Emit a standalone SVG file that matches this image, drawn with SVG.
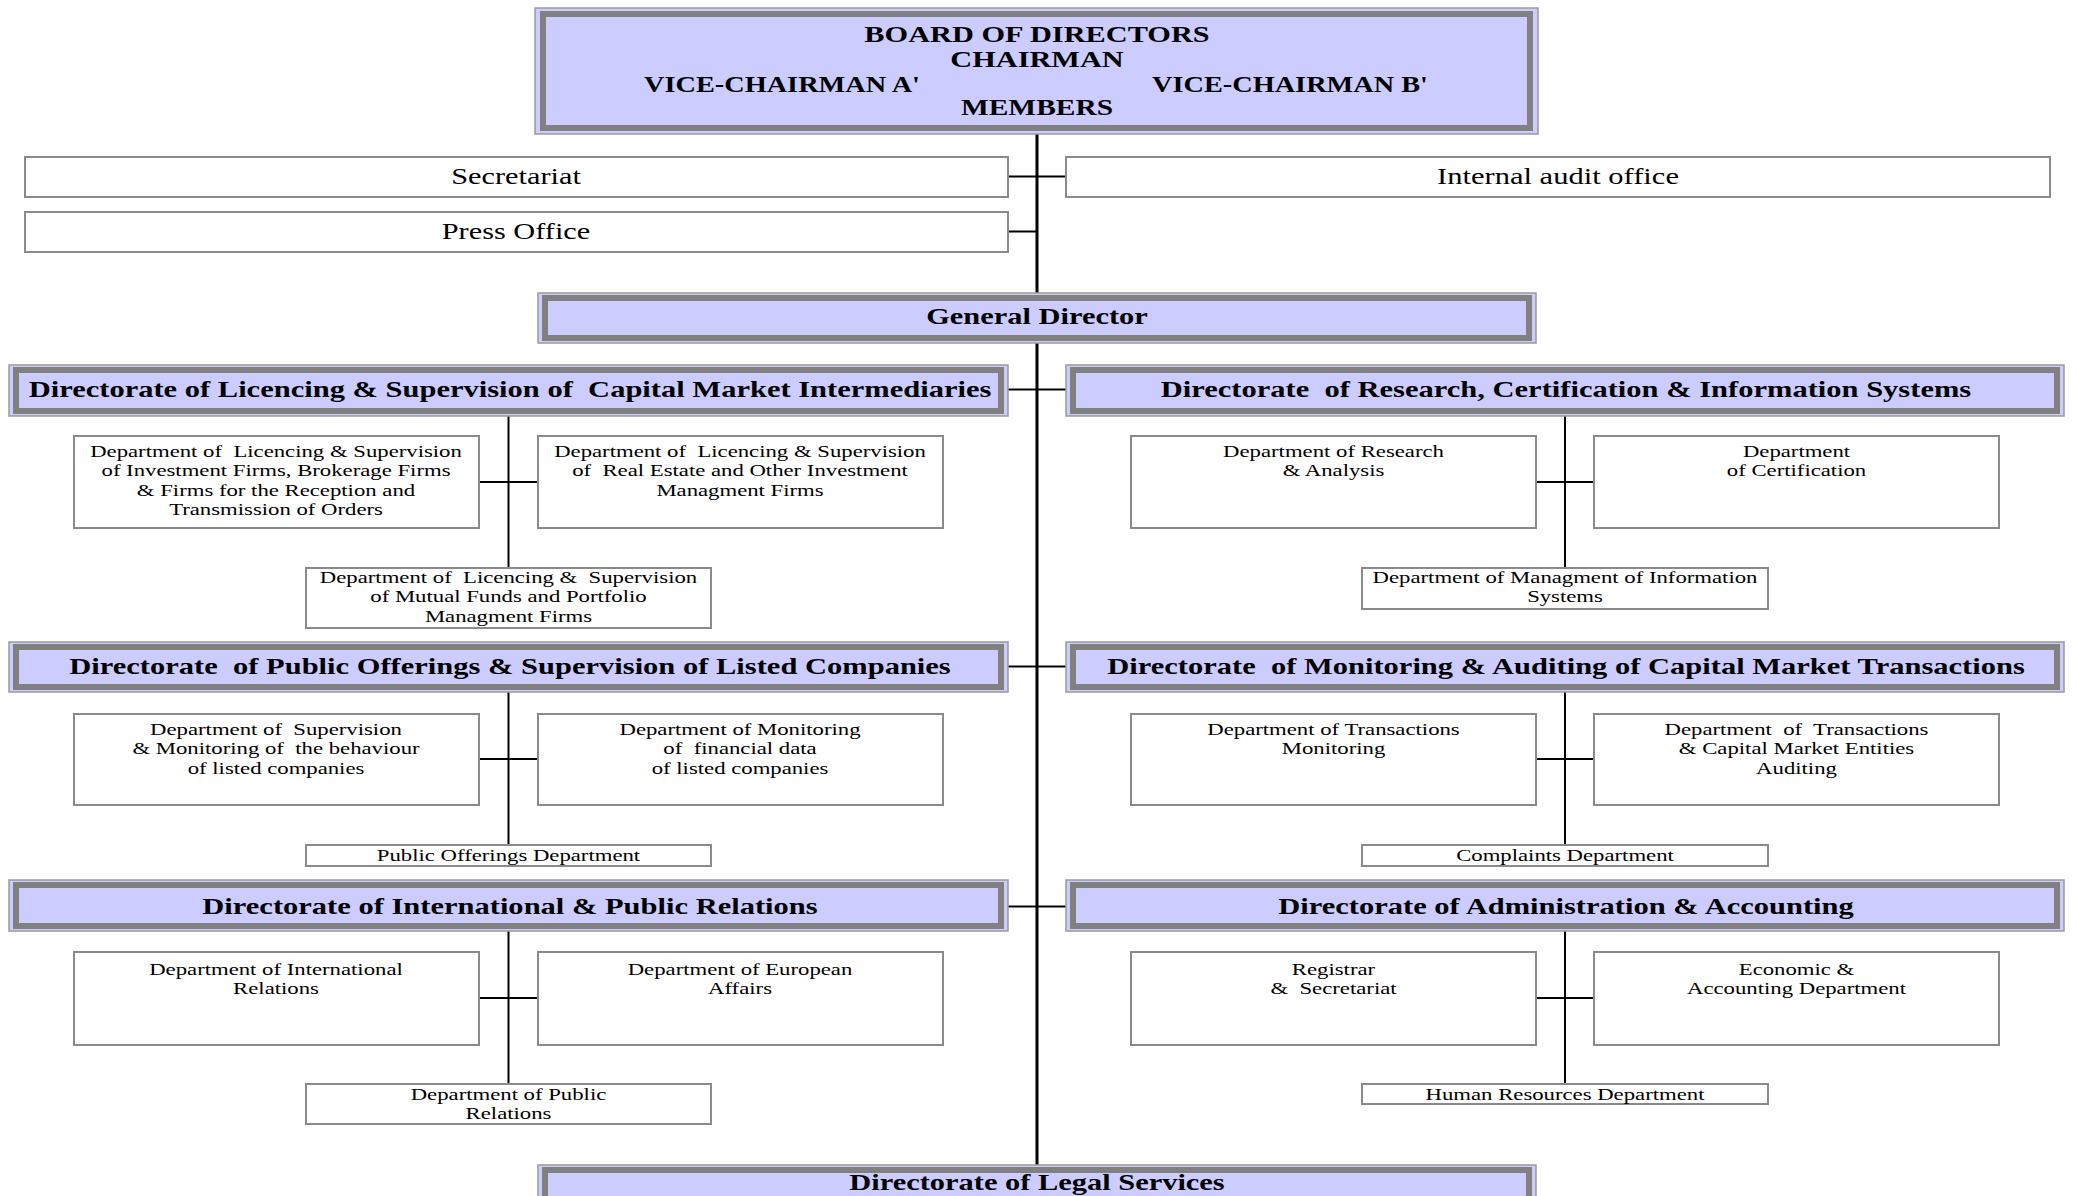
<svg xmlns="http://www.w3.org/2000/svg" width="2076" height="1196" viewBox="0 0 2076 1196">
<style>
.bo{fill:#ccccff;stroke:#9a9a9a;stroke-width:1.5}
.bi{fill:none;stroke:#808080;stroke-width:6}
.box{fill:#ffffff;stroke:#8a8a8a;stroke-width:2}
.h{font-family:"Liberation Serif","Times New Roman",serif;font-weight:bold;font-size:22.3px;fill:#000;text-anchor:middle}
.t{font-family:"Liberation Serif","Times New Roman",serif;font-size:22.3px;fill:#000;text-anchor:middle}
.d{font-family:"Liberation Serif","Times New Roman",serif;font-size:16.6px;fill:#000;text-anchor:middle}
.c{stroke:#000;fill:none}
</style>
<rect width="2076" height="1196" fill="#ffffff"/>
<g id="connectors">
<line class="c" x1="1037" y1="134" x2="1037" y2="1166" stroke-width="3"/>
<line class="c" x1="1008" y1="176.5" x2="1066" y2="176.5" stroke-width="2"/>
<line class="c" x1="1008" y1="231.5" x2="1037" y2="231.5" stroke-width="2"/>
<line class="c" x1="1008" y1="389.5" x2="1066" y2="389.5" stroke-width="2"/>
<line class="c" x1="1008" y1="666.5" x2="1066" y2="666.5" stroke-width="2"/>
<line class="c" x1="1008" y1="906.5" x2="1066" y2="906.5" stroke-width="2"/>
<line class="c" x1="508.5" y1="416" x2="508.5" y2="568" stroke-width="2"/>
<line class="c" x1="479" y1="482" x2="538" y2="482" stroke-width="2"/>
<line class="c" x1="1565" y1="416" x2="1565" y2="568" stroke-width="2"/>
<line class="c" x1="1536" y1="482" x2="1594" y2="482" stroke-width="2"/>
<line class="c" x1="508.5" y1="692" x2="508.5" y2="845" stroke-width="2"/>
<line class="c" x1="479" y1="759" x2="538" y2="759" stroke-width="2"/>
<line class="c" x1="1565" y1="692" x2="1565" y2="845" stroke-width="2"/>
<line class="c" x1="1536" y1="759" x2="1594" y2="759" stroke-width="2"/>
<line class="c" x1="508.5" y1="931" x2="508.5" y2="1084" stroke-width="2"/>
<line class="c" x1="479" y1="998" x2="538" y2="998" stroke-width="2"/>
<line class="c" x1="1565" y1="931" x2="1565" y2="1084" stroke-width="2"/>
<line class="c" x1="1536" y1="998" x2="1594" y2="998" stroke-width="2"/>
</g>
<g id="board">
<rect class="bo" x="535" y="8" width="1003" height="126"/>
<rect class="bi" x="543" y="14" width="987" height="114"/>
<text class="h" transform="translate(1037,42) scale(1.36,1)">BOARD OF DIRECTORS</text>
<text class="h" transform="translate(1037,67) scale(1.36,1)">CHAIRMAN</text>
<text class="h" transform="translate(782,92) scale(1.27,1)">VICE-CHAIRMAN A'</text>
<text class="h" transform="translate(1290,92) scale(1.27,1)">VICE-CHAIRMAN B'</text>
<text class="h" transform="translate(1037,115) scale(1.32,1)">MEMBERS</text>
</g>
<g id="secretariat">
<rect class="box" x="25" y="157" width="983" height="40"/>
<text class="t" transform="translate(516,184) scale(1.36,1)">Secretariat</text>
</g>
<g id="internal-audit">
<rect class="box" x="1066" y="157" width="984" height="40"/>
<text class="t" transform="translate(1558,184) scale(1.37,1)">Internal audit office</text>
</g>
<g id="press-office">
<rect class="box" x="25" y="212" width="983" height="40"/>
<text class="t" transform="translate(516,239) scale(1.36,1)">Press Office</text>
</g>
<g id="general-director">
<rect class="bo" x="538" y="293" width="998" height="50"/>
<rect class="bi" x="545" y="298" width="984" height="40"/>
<text class="h" transform="translate(1037,324) scale(1.365,1)">General Director</text>
</g>
<g id="dir-licencing">
<rect class="bo" x="9" y="365" width="999" height="51"/>
<rect class="bi" x="16" y="370" width="985" height="41"/>
<text class="h" xml:space="preserve" transform="translate(510,397) scale(1.368,1)">Directorate of Licencing &amp; Supervision of  Capital Market Intermediaries</text>
</g>
<g id="dir-research">
<rect class="bo" x="1066" y="365" width="998" height="51"/>
<rect class="bi" x="1073" y="370" width="984" height="41"/>
<text class="h" xml:space="preserve" transform="translate(1566,397) scale(1.368,1)">Directorate  of Research, Certification &amp; Information Systems</text>
</g>
<g id="dept-lic-invest">
<rect class="box" x="74" y="436" width="405" height="92"/>
<text class="d" xml:space="preserve" transform="translate(276,457) scale(1.37,1)"><tspan x="0" y="0">Department of  Licencing &amp; Supervision</tspan><tspan x="0" y="19.3">of Investment Firms, Brokerage Firms</tspan><tspan x="0" y="38.6">&amp; Firms for the Reception and</tspan><tspan x="0" y="57.9">Transmission of Orders</tspan></text>
</g>
<g id="dept-lic-realestate">
<rect class="box" x="538" y="436" width="405" height="92"/>
<text class="d" xml:space="preserve" transform="translate(740,457) scale(1.37,1)"><tspan x="0" y="0">Department of  Licencing &amp; Supervision</tspan><tspan x="0" y="19.3">of  Real Estate and Other Investment</tspan><tspan x="0" y="38.6">Managment Firms</tspan></text>
</g>
<g id="dept-lic-mutual">
<rect class="box" x="306" y="568" width="405" height="60"/>
<text class="d" xml:space="preserve" transform="translate(508.5,583) scale(1.37,1)"><tspan x="0" y="0">Department of  Licencing &amp;  Supervision</tspan><tspan x="0" y="19.3">of Mutual Funds and Portfolio</tspan><tspan x="0" y="38.6">Managment Firms</tspan></text>
</g>
<g id="dept-research">
<rect class="box" x="1131" y="436" width="405" height="92"/>
<text class="d" transform="translate(1333.5,457) scale(1.37,1)"><tspan x="0" y="0">Department of Research</tspan><tspan x="0" y="19.3">&amp; Analysis</tspan></text>
</g>
<g id="dept-certification">
<rect class="box" x="1594" y="436" width="405" height="92"/>
<text class="d" transform="translate(1796.5,457) scale(1.37,1)"><tspan x="0" y="0">Department</tspan><tspan x="0" y="19.3">of Certification</tspan></text>
</g>
<g id="dept-mis">
<rect class="box" x="1362" y="568" width="406" height="41"/>
<text class="d" transform="translate(1565,583) scale(1.37,1)"><tspan x="0" y="0">Department of Managment of Information</tspan><tspan x="0" y="19.3">Systems</tspan></text>
</g>
<g id="dir-public-offerings">
<rect class="bo" x="9" y="642" width="999" height="50"/>
<rect class="bi" x="16" y="647" width="985" height="40"/>
<text class="h" xml:space="preserve" transform="translate(510,674) scale(1.368,1)">Directorate  of Public Offerings &amp; Supervision of Listed Companies</text>
</g>
<g id="dir-monitoring">
<rect class="bo" x="1066" y="642" width="998" height="50"/>
<rect class="bi" x="1073" y="647" width="984" height="40"/>
<text class="h" xml:space="preserve" transform="translate(1566,674) scale(1.368,1)">Directorate  of Monitoring &amp; Auditing of Capital Market Transactions</text>
</g>
<g id="dept-supervision-behaviour">
<rect class="box" x="74" y="714" width="405" height="91"/>
<text class="d" xml:space="preserve" transform="translate(276,735) scale(1.37,1)"><tspan x="0" y="0">Department of  Supervision</tspan><tspan x="0" y="19.3">&amp; Monitoring of  the behaviour</tspan><tspan x="0" y="38.6">of listed companies</tspan></text>
</g>
<g id="dept-financial-data">
<rect class="box" x="538" y="714" width="405" height="91"/>
<text class="d" xml:space="preserve" transform="translate(740,735) scale(1.37,1)"><tspan x="0" y="0">Department of Monitoring</tspan><tspan x="0" y="19.3">of  financial data</tspan><tspan x="0" y="38.6">of listed companies</tspan></text>
</g>
<g id="dept-public-offerings">
<rect class="box" x="306" y="845" width="405" height="21"/>
<text class="d" transform="translate(508.5,861) scale(1.37,1)">Public Offerings Department</text>
</g>
<g id="dept-transactions-monitoring">
<rect class="box" x="1131" y="714" width="405" height="91"/>
<text class="d" transform="translate(1333.5,735) scale(1.37,1)"><tspan x="0" y="0">Department of Transactions</tspan><tspan x="0" y="19.3">Monitoring</tspan></text>
</g>
<g id="dept-transactions-auditing">
<rect class="box" x="1594" y="714" width="405" height="91"/>
<text class="d" xml:space="preserve" transform="translate(1796.5,735) scale(1.37,1)"><tspan x="0" y="0">Department  of  Transactions</tspan><tspan x="0" y="19.3">&amp; Capital Market Entities</tspan><tspan x="0" y="38.6">Auditing</tspan></text>
</g>
<g id="dept-complaints">
<rect class="box" x="1362" y="845" width="406" height="21"/>
<text class="d" transform="translate(1565,861) scale(1.37,1)">Complaints Department</text>
</g>
<g id="dir-international">
<rect class="bo" x="9" y="880" width="999" height="51"/>
<rect class="bi" x="16" y="885" width="985" height="41"/>
<text class="h" transform="translate(510,914) scale(1.368,1)">Directorate of International &amp; Public Relations</text>
</g>
<g id="dir-administration">
<rect class="bo" x="1066" y="880" width="998" height="51"/>
<rect class="bi" x="1073" y="885" width="984" height="41"/>
<text class="h" transform="translate(1566,914) scale(1.368,1)">Directorate of Administration &amp; Accounting</text>
</g>
<g id="dept-international">
<rect class="box" x="74" y="952" width="405" height="93"/>
<text class="d" transform="translate(276,975) scale(1.37,1)"><tspan x="0" y="0">Department of International</tspan><tspan x="0" y="19.3">Relations</tspan></text>
</g>
<g id="dept-european">
<rect class="box" x="538" y="952" width="405" height="93"/>
<text class="d" transform="translate(740,975) scale(1.37,1)"><tspan x="0" y="0">Department of European</tspan><tspan x="0" y="19.3">Affairs</tspan></text>
</g>
<g id="dept-public-relations">
<rect class="box" x="306" y="1084" width="405" height="40"/>
<text class="d" transform="translate(508.5,1100) scale(1.37,1)"><tspan x="0" y="0">Department of Public</tspan><tspan x="0" y="19.3">Relations</tspan></text>
</g>
<g id="dept-registrar">
<rect class="box" x="1131" y="952" width="405" height="93"/>
<text class="d" xml:space="preserve" transform="translate(1333.5,975) scale(1.37,1)"><tspan x="0" y="0">Registrar</tspan><tspan x="0" y="19.3">&amp;  Secretariat</tspan></text>
</g>
<g id="dept-economic">
<rect class="box" x="1594" y="952" width="405" height="93"/>
<text class="d" transform="translate(1796.5,975) scale(1.37,1)"><tspan x="0" y="0">Economic &amp;</tspan><tspan x="0" y="19.3">Accounting Department</tspan></text>
</g>
<g id="dept-hr">
<rect class="box" x="1362" y="1084" width="406" height="20"/>
<text class="d" transform="translate(1565,1100) scale(1.37,1)">Human Resources Department</text>
</g>
<g id="dir-legal">
<rect class="bo" x="538" y="1165" width="998" height="50"/>
<rect class="bi" x="545" y="1170" width="984" height="40"/>
<text class="h" transform="translate(1037,1190) scale(1.365,1)">Directorate of Legal Services</text>
</g>
</svg>
